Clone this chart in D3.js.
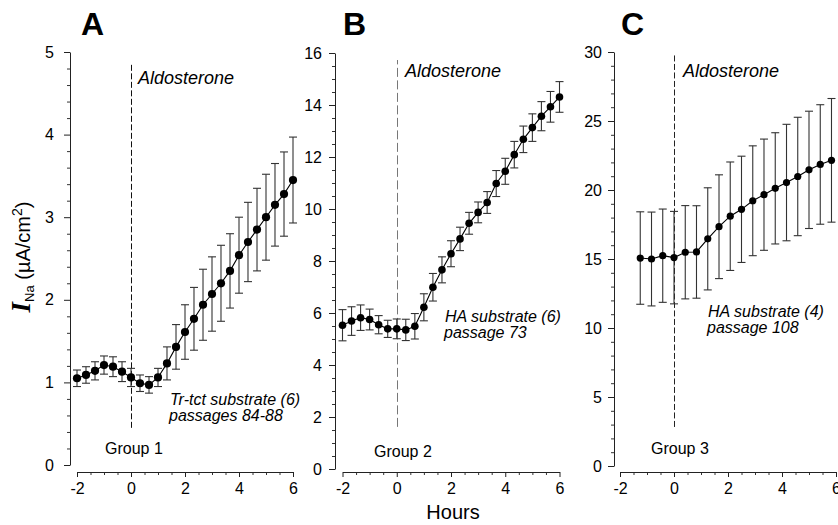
<!DOCTYPE html>
<html>
<head>
<meta charset="utf-8">
<script src="https://cdn.jsdelivr.net/npm/d3@7"></script>
<style>
  html, body { margin: 0; padding: 0; background: #fff; }
  svg { display: block; }
  text { font-family: "Liberation Sans", Arial, Helvetica, sans-serif; fill: #000; }
</style>
</head>
<body>
<svg id="chart" width="838" height="525"></svg>
<script>
// Sampling times (hours relative to aldosterone addition)
const hoursAB = [-2, -1.667, -1.333, -1, -0.667, -0.333, 0, 0.333, 0.667, 1, 1.333, 1.667, 2,
                 2.333, 2.667, 3, 3.333, 3.667, 4, 4.333, 4.667, 5, 5.333, 5.667, 6];
const hoursC = [-1.25, -0.833, -0.417, 0, 0.417, 0.833, 1.25, 1.667, 2.083, 2.5, 2.917, 3.333,
                3.75, 4.167, 4.583, 5, 5.417, 5.833];

// Group 1: Tr-tct substrate, passages 84-88 (mean, SEM)
const group1Mean = [1.05, 1.09, 1.14, 1.21, 1.19, 1.13, 1.06, 0.99, 0.97, 1.06, 1.23, 1.43, 1.61,
                    1.77, 1.94, 2.07, 2.20, 2.35, 2.54, 2.70, 2.85, 3.00, 3.15, 3.28, 3.45];
const group1Sem  = [0.10, 0.10, 0.11, 0.11, 0.12, 0.12, 0.11, 0.10, 0.10, 0.11, 0.20, 0.27, 0.33,
                    0.38, 0.43, 0.45, 0.46, 0.45, 0.46, 0.48, 0.50, 0.52, 0.50, 0.51, 0.52];

// Group 2: HA substrate, passage 73
const group2Mean = [5.53, 5.69, 5.82, 5.75, 5.55, 5.39, 5.39, 5.35, 5.49, 6.22, 6.99, 7.66, 8.28,
                    8.85, 9.45, 9.87, 10.25, 10.98, 11.45, 12.09, 12.68, 13.13, 13.57, 13.93, 14.31];
const group2Sem  = [0.60, 0.55, 0.49, 0.40, 0.35, 0.33, 0.38, 0.41, 0.49, 0.52, 0.53, 0.50, 0.50,
                    0.45, 0.42, 0.40, 0.42, 0.50, 0.50, 0.51, 0.51, 0.53, 0.56, 0.59, 0.59];

// Group 3: HA substrate, passage 108
const group3Mean = [15.07, 15.00, 15.24, 15.10, 15.49, 15.51, 16.46, 17.34, 18.10, 18.60, 19.22, 19.66,
                    20.12, 20.54, 20.98, 21.46, 21.85, 22.15];
const group3Sem  = [3.35, 3.40, 3.38, 3.35, 3.38, 3.35, 3.70, 3.76, 3.93, 3.85, 3.98, 4.03,
                    4.03, 4.22, 4.29, 4.25, 4.33, 4.48];

// Axis tick values
const xTicks = [-2, 0, 2, 4, 6];
const yTicksA = [0, 1, 2, 3, 4, 5];
const yTicksB = [0, 2, 4, 6, 8, 10, 12, 14, 16];
const yTicksC = [0, 5, 10, 15, 20, 25, 30];

const panelLetters = ["A", "B", "C"];
const groupLabels = ["Group 1", "Group 2", "Group 3"];
const substrateLines = [
  ["Tr-tct substrate (6)", "passages 84-88"],
  ["HA substrate (6)", "passage 73"],
  ["HA substrate (4)", "passage 108"]
];

const panels = [
  { letter: panelLetters[0], hours: hoursAB, mean: group1Mean, sem: group1Sem, yTicks: yTicksA,
    yMax: 5, yMinor: 0.2, group: groupLabels[0], sub: substrateLines[0],
    axisX: 70, xr: [77, 293], yr: [465, 52], pad: 10, r: 4.1, dash: "6,2.5", dashColor: "#111",
    aldoSpan: [0.45, 4.87],
    letterPos: [81, 35], aldoPos: [138, 84], subPos: [170, 405], groupPos: [105, 454] },
  { letter: panelLetters[1], hours: hoursAB, mean: group2Mean, sem: group2Sem, yTicks: yTicksB,
    yMax: 16, yMinor: 0.5, group: groupLabels[1], sub: substrateLines[1],
    axisX: 335, xr: [342.5, 559.5], yr: [469, 53], pad: 7, r: 3.8, dash: "9,3.5", dashColor: "#777",
    aldoSpan: [1.62, 15.73],
    letterPos: [343, 35], aldoPos: [405, 77], subPos: [445, 322], groupPos: [374, 457] },
  { letter: panelLetters[2], hours: hoursC, mean: group3Mean, sem: group3Sem, yTicks: yTicksC,
    yMax: 30, yMinor: 1, group: groupLabels[2], sub: substrateLines[2],
    axisX: 614, xr: [620, 836], yr: [466, 52], pad: 6, r: 3.6, dash: "6,2.5", dashColor: "#222",
    aldoSpan: [2.83, 29.8],
    letterPos: [621, 35], aldoPos: [683, 77], subPos: [708, 317], groupPos: [651, 454] }
];

const svg = d3.select("#chart");
const xAxisY = 472;
const plainNum = d => String(d);

panels.forEach(p => {
  const x = d3.scaleLinear().domain([-2, 6]).range(p.xr);
  const y = d3.scaleLinear().domain([0, p.yMax]).range(p.yr);
  const g = svg.append("g");

  // y axis: minor ticks, then major ticks with labels
  const minorY = d3.range(0, p.yMax + 1e-9, p.yMinor).filter(v => !p.yTicks.some(t => Math.abs(t - v) < 1e-6));
  g.append("g").attr("transform", `translate(${p.axisX},0)`)
    .call(d3.axisLeft(y).tickValues(minorY).tickSize(3).tickSizeOuter(0).tickFormat(""))
    .call(s => s.select(".domain").remove())
    .selectAll("line").attr("stroke", "#333");
  const ya = g.append("g").attr("transform", `translate(${p.axisX},0)`)
    .call(d3.axisLeft(y).tickValues(p.yTicks).tickSize(6).tickSizeOuter(0)
      .tickPadding(p.pad).tickFormat(plainNum));
  ya.select(".domain").attr("stroke", "#222");
  ya.selectAll("line").attr("stroke", "#222");
  ya.selectAll("text").attr("font-size", 16).attr("font-family", "Liberation Sans, Arial, sans-serif");

  // x axis, offset below the plot
  const minorX = d3.range(-2, 6.01, 0.5).filter(v => !xTicks.includes(v));
  g.append("g").attr("transform", `translate(0,${xAxisY})`)
    .call(d3.axisBottom(x).tickValues(minorX).tickSize(3).tickSizeOuter(0).tickFormat(""))
    .call(s => s.select(".domain").remove())
    .selectAll("line").attr("stroke", "#333");
  const xa = g.append("g").attr("transform", `translate(0,${xAxisY})`)
    .call(d3.axisBottom(x).tickValues(xTicks).tickSize(5).tickSizeOuter(0)
      .tickPadding(6).tickFormat(plainNum));
  xa.select(".domain").attr("stroke", "#222");
  xa.selectAll("line").attr("stroke", "#222");
  xa.selectAll("text").attr("font-size", 16).attr("font-family", "Liberation Sans, Arial, sans-serif");

  // aldosterone addition marker
  g.append("line")
    .attr("x1", Math.round(x(0)) + 0.5).attr("x2", Math.round(x(0)) + 0.5)
    .attr("y1", y(p.aldoSpan[0])).attr("y2", y(p.aldoSpan[1]))
    .attr("stroke", p.dashColor).attr("stroke-width", 1)
    .attr("stroke-dasharray", p.dash);

  const pts = p.hours.map((h, i) => ({ h, m: p.mean[i], s: p.sem[i] }));

  // error bars (mean ± SEM)
  const eb = g.append("g").attr("stroke", "#333").attr("stroke-width", 1.1);
  pts.forEach(d => {
    const cx = x(d.h);
    eb.append("line").attr("x1", cx).attr("x2", cx).attr("y1", y(d.m - d.s)).attr("y2", y(d.m + d.s));
    eb.append("line").attr("x1", cx - 4).attr("x2", cx + 4).attr("y1", y(d.m - d.s)).attr("y2", y(d.m - d.s));
    eb.append("line").attr("x1", cx - 4).attr("x2", cx + 4).attr("y1", y(d.m + d.s)).attr("y2", y(d.m + d.s));
  });

  // mean line and markers
  g.append("path").datum(pts)
    .attr("fill", "none").attr("stroke", "#000").attr("stroke-width", 1.1)
    .attr("d", d3.line().x(d => x(d.h)).y(d => y(d.m)));
  g.selectAll("circle.pt").data(pts).join("circle")
    .attr("class", "pt")
    .attr("cx", d => x(d.h)).attr("cy", d => y(d.m)).attr("r", p.r)
    .attr("fill", "#000");

  // labels
  g.append("text").attr("x", p.letterPos[0]).attr("y", p.letterPos[1])
    .attr("font-size", 32).attr("font-weight", "bold").text(p.letter);
  g.append("text").attr("x", p.aldoPos[0]).attr("y", p.aldoPos[1])
    .attr("font-size", 18).attr("font-style", "italic").text("Aldosterone");
  g.append("text").attr("x", p.subPos[0]).attr("y", p.subPos[1])
    .attr("font-size", 16).attr("font-style", "italic").text(p.sub[0]);
  g.append("text").attr("x", p.subPos[0] - 1).attr("y", p.subPos[1] + 16)
    .attr("font-size", 16).attr("font-style", "italic").text(p.sub[1]);
  g.append("text").attr("x", p.groupPos[0]).attr("y", p.groupPos[1])
    .attr("font-size", 16).text(p.group);
});

// shared axis titles
svg.append("text").attr("x", 453).attr("y", 519).attr("text-anchor", "middle")
  .attr("font-size", 20).text("Hours");

const yl = svg.append("text")
  .attr("transform", "translate(30,257) rotate(-90)")
  .attr("text-anchor", "middle").attr("font-size", 20);
yl.append("tspan").attr("font-family", "Liberation Serif, Times New Roman, serif")
  .attr("font-style", "italic").attr("font-weight", "bold").attr("font-size", 27).text("I");
yl.append("tspan").attr("font-size", 13).attr("dy", 4).text("Na");
yl.append("tspan").attr("dy", -4).text(" (\u00B5A/cm");
yl.append("tspan").attr("font-size", 14).attr("dy", -8).text("2");
yl.append("tspan").attr("dy", 8).text(")");
</script>
</body>
</html>
